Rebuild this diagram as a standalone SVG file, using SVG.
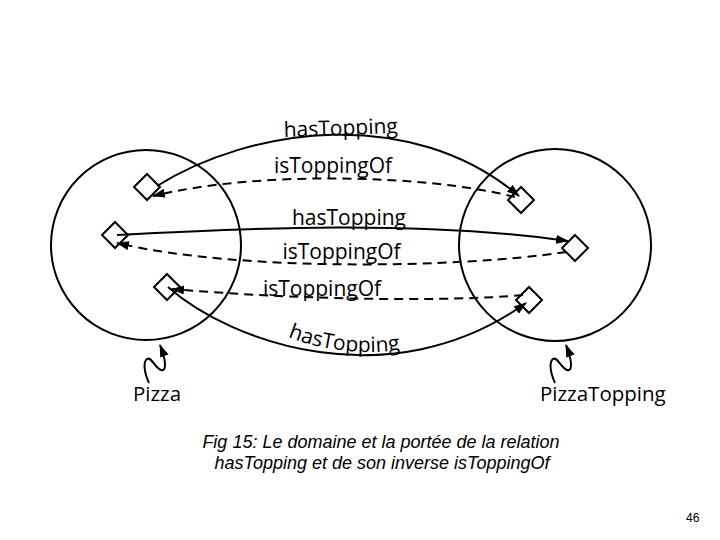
<svg xmlns="http://www.w3.org/2000/svg" width="720" height="540" viewBox="0 0 720 540">
  <style>
    .circ { fill: none; stroke: #000; stroke-width: 2; }
    .dia { fill: none; stroke: #000; stroke-width: 2; }
    .solid { fill: none; stroke: #000; stroke-width: 2; }
    .dash { fill: none; stroke: #000; stroke-width: 2; stroke-dasharray: 9 6; }
    .lbl { font-family: "Open Sans", "Noto Sans", sans-serif; font-size: 21px; fill: #000; }
    .name { font-family: "Open Sans", "Noto Sans", sans-serif; font-size: 20.5px; fill: #000; }
    .cap { font-family: "Liberation Sans", Arial, sans-serif; font-size: 18px; font-style: italic; fill: #000; }
    .pg { font-family: "Liberation Sans", Arial, sans-serif; font-size: 12px; fill: #000; }
  </style>
  <defs>
    <marker id="arr" markerUnits="userSpaceOnUse" markerWidth="14" markerHeight="10" refX="12" refY="4.5" orient="auto">
      <path d="M0,0 L13,4.5 L0,9 z" fill="#000"/>
    </marker>
    <path id="tp-bottom" d="M288,337 C 320,350 370,358 420,346"/>
  </defs>

  <rect x="0" y="0" width="720" height="540" fill="#fff"/>

  <g id="pizza">
    <circle class="circ" cx="146" cy="245" r="95"/>
    <text class="name" x="133" y="401">Pizza</text>
  </g>
  <g id="pizzatopping">
    <circle class="circ" cx="555" cy="245" r="96"/>
    <text class="name" x="540" y="401">PizzaTopping</text>
  </g>

  <g id="connectors">
    <path class="solid" d="M157,186 C 250,128 410,104 519,196" marker-end="url(#arr)"/>
    <path class="dash" d="M515,197 C 430,175 260,170 153,196" marker-end="url(#arr)"/>
    <path class="solid" d="M117,235 C 250,228 420,220 568,241" marker-end="url(#arr)"/>
    <path class="dash" d="M566,252 C 460,268 240,272 117,243" marker-end="url(#arr)"/>
    <path class="dash" d="M523,295 C 450,302 300,300 172,289" marker-end="url(#arr)"/>
    <path class="solid" d="M168,287 C 230,342 390,400 526,303" marker-end="url(#arr)"/>
    <path class="solid" d="M149,383 C 144,372 143,362 147,359 C 151,356 155,368 161,370 C 167,372 166,360 160,345" marker-end="url(#arr)"/>
    <path class="solid" d="M555,383 C 550,372 549,362 553,359 C 557,356 561,368 567,370 C 573,372 572,360 566,345" marker-end="url(#arr)"/>
  </g>

  <g id="instances">
    <polygon class="dia" points="147,174 160,187 147,200 134,187"/>
    <polygon class="dia" points="115,222 128,235 115,248 102,235"/>
    <polygon class="dia" points="167,274 180,287 167,300 154,287"/>
    <polygon class="dia" points="521,187 534,200 521,213 508,200"/>
    <polygon class="dia" points="575,235 588,248 575,261 562,248"/>
    <polygon class="dia" points="529,287 542,300 529,313 516,300"/>
  </g>

  <g id="labels">
    <text class="lbl" x="341" y="135" text-anchor="middle" transform="rotate(-2 341 135)">hasTopping</text>
    <text class="lbl" x="333" y="173" text-anchor="middle">isToppingOf</text>
    <text class="lbl" x="349" y="224.5" text-anchor="middle">hasTopping</text>
    <text class="lbl" x="341.5" y="259" text-anchor="middle">isToppingOf</text>
    <text class="lbl" x="322" y="296" text-anchor="middle">isToppingOf</text>
    <text class="lbl"><textPath href="#tp-bottom">hasTopping</textPath></text>
  </g>

  <g id="caption">
    <text class="cap" x="381" y="448" text-anchor="middle">Fig 15: Le domaine et la portée de la relation</text>
    <text class="cap" x="382" y="469" text-anchor="middle">hasTopping et de son inverse isToppingOf</text>
  </g>
  <text class="pg" x="686" y="522">46</text>
</svg>
